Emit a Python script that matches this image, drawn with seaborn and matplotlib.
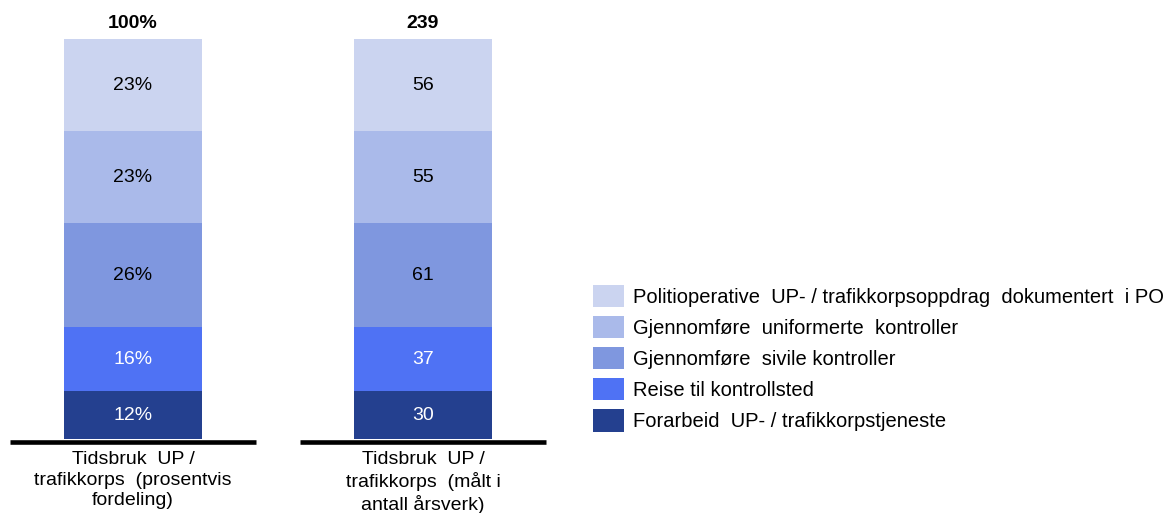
import matplotlib
matplotlib.use("Agg")
import matplotlib.pyplot as plt
from matplotlib.patches import Patch
import numpy as np
import pandas as pd
import seaborn as sns

# data, bottom segment first
segments = [
    "Forarbeid  UP- / trafikkorpstjeneste",
    "Reise til kontrollsted",
    "Gjennomføre  sivile kontroller",
    "Gjennomføre  uniformerte  kontroller",
    "Politioperative  UP- / trafikkorpsoppdrag  dokumentert  i PO",
]
pct_share = [12, 16, 26, 23, 23]
fte_counts = [30, 37, 61, 55, 56]
categories = [
    "Tidsbruk  UP /\ntrafikkorps  (prosentvis\nfordeling)",
    "Tidsbruk  UP /\ntrafikkorps  (målt i\nantall årsverk)",
]
totals = ["100%", "239"]
colors = ["#24408F", "#4F72F4", "#7F97DF", "#AABAEA", "#CBD4F0"]
text_colors = ["white", "white", "black", "black", "black"]

sns.set_style("white")
plt.rcParams["font.family"] = ["Liberation Sans", "DejaVu Sans"]
plt.rcParams["text.color"] = "black"
plt.rcParams["xtick.color"] = "black"
FS = 14

rows = []
for cat, labels in zip(categories, [[f"{v}%" for v in pct_share], [str(v) for v in fte_counts]]):
    cum = np.cumsum(pct_share)
    for seg, h, c, lab in zip(segments, pct_share, cum, labels):
        rows.append({"kategori": cat, "segment": seg, "andel": h, "cum": c, "label": lab})
df = pd.DataFrame(rows)

W, H = 1167, 513
fig = plt.figure(figsize=(W / 100, H / 100), dpi=100)
ax = fig.add_axes([0, 1 - 439 / H, 560 / W, 400 / H])

# stacked bars: draw cumulative heights from the top segment down
for seg, col in reversed(list(zip(segments, colors))):
    sub = df[df["segment"] == seg]
    sns.barplot(data=sub, x="kategori", y="cum", color=col, width=0.476,
                saturation=1, linewidth=0, ax=ax, order=categories)

for i, cat in enumerate(categories):
    sub = df[df["kategori"] == cat]
    for (_, r), tc in zip(sub.iterrows(), text_colors):
        ax.text(i, r["cum"] - r["andel"] / 2, r["label"], ha="center", va="center",
                fontsize=FS, color=tc)
    ax.annotate(totals[i], (i, 100), xytext=(0, 5), textcoords="offset points",
                ha="center", va="bottom", fontsize=FS, fontweight="bold")
    ax.plot([i - 0.424, i + 0.424], [-0.7, -0.7], color="black", lw=3.3,
            clip_on=False, solid_capstyle="butt")

ax.set_xlim(-133 / 290, (560 - 133) / 290)
ax.set_ylim(0, 100)
ax.set_xlabel("")
ax.set_ylabel("")
ax.set_yticks([])
ax.tick_params(axis="x", length=0, pad=9, labelsize=FS)
for lbl in ax.get_xticklabels():
    lbl.set_linespacing(1.24)
sns.despine(ax=ax, left=True, bottom=True)

handles = [Patch(facecolor=c, edgecolor="none") for c in colors][::-1]
fig.legend(handles, segments[::-1], loc="upper left",
           bbox_to_anchor=(593 / W, 1 - 285 / H), frameon=False, fontsize=14.5,
           borderpad=0, borderaxespad=0, handlelength=1.55, handleheight=1.32,
           handletextpad=0.44, labelspacing=0.44)

fig.savefig("out.png", dpi=100)
